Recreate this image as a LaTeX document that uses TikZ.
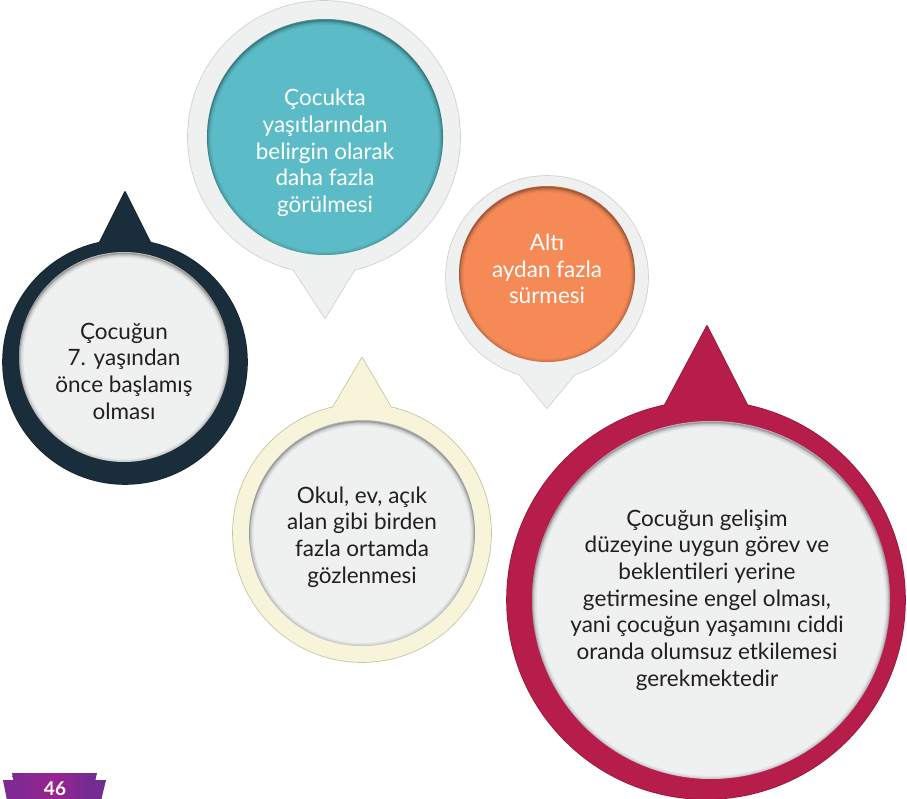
\documentclass[tikz,border=0pt]{standalone}
\usepackage{fontspec}
\setmainfont{Lato}
\usetikzlibrary{calc}
\definecolor{bubgray}{HTML}{EFF0F0}
\definecolor{bubedge}{HTML}{CFD0D0}
\definecolor{tealc}{HTML}{5BBCC7}
\definecolor{orangec}{HTML}{F58A56}
\definecolor{navyc}{HTML}{1A2D3B}
\definecolor{crimc}{HTML}{B71D4A}
\definecolor{palec}{HTML}{F8F4D9}
\definecolor{paleedge}{HTML}{C8C19C}
\definecolor{txtc}{HTML}{231F20}
\definecolor{purpA}{HTML}{7B2A92}
\definecolor{purpB}{HTML}{9A2390}
\definecolor{purpC}{HTML}{6A2E92}
\tikzset{
  lbl/.style={align=center, font=\fontsize{22.5}{26.7}\selectfont, inner sep=0pt},
  lbllight/.style={lbl, text=white},
  lbldark/.style={lbl, text=txtc},
}
% #1 center, #2 radius (pt)
\newcommand\myinshadow[2]{%
  \begin{scope}
    \clip #1 circle (#2);
    \foreach \w/\o in {9/0.05,6/0.07,3.5/0.10,1.5/0.16}
      \draw[line width=\w pt, black, opacity=\o] ($#1+(0,1.5)$) circle (#2);
  \end{scope}}
% bubble: #1 center, #2 radius, #3 apex, #4 ang1, #5 ang2, #6 fill, #7 edge
\newcommand\mybubble[7]{%
  \draw[#7, line width=1.6pt, line join=round] #1 circle (#2);
  \draw[#7, line width=1.6pt, line join=round] #3 -- ($#1+(#4:#2)$) -- ($#1+(#5:#2)$) -- cycle;
  \fill[#6] #1 circle (#2);
  \fill[#6, line join=round] #3 -- ($#1+(#4:#2)$) -- ($#1+(#5:#2)$) -- cycle;
}
\begin{document}
\begin{tikzpicture}[x=1pt,y=-1pt]
\useasboundingbox (0,0) rectangle (907,799);
\fill[white] (0,0) rectangle (907,799);

% --- Teal bubble (top) ---
\mybubble{(324,137)}{136pt}{(325,318)}{-77}{-103}{bubgray}{bubedge}
\fill[tealc] (325,137) circle (118pt);
\myinshadow{(325,137)}{118pt}
\node[lbllight] (teal) at (325,153) {Çocukta\\yaşıtlarından\\belirgin olarak\\daha fazla\\görülmesi};

% --- Navy bubble (left) ---
\mybubble{(125,362)}{122pt}{(125,192)}{78}{102}{navyc}{navyc!80!black}
\fill[bubgray] (124,357) circle (105pt);
\myinshadow{(124,357)}{105pt}
\node[lbldark] (navy) at (124,371) {Çocuğun\\7. yaşından\\önce başlamış\\olması};

% --- Orange bubble ---
\mybubble{(547,277)}{101pt}{(547,408)}{-74}{-106}{bubgray}{bubedge}
\fill[orangec] (547,274) circle (88pt);
\myinshadow{(547,274)}{88pt}
\node[lbllight] (orange) at (547,269) {Altı\\aydan fazla\\sürmesi};

% --- Pale yellow bubble ---
\mybubble{(362,533)}{129pt}{(362,358)}{77}{103}{palec}{paleedge}
\fill[bubgray] (362,533) circle (113pt);
\myinshadow{(362,533)}{113pt}
\node[lbldark] (pale) at (362,537) {Okul, ev, açık\\alan gibi birden\\fazla ortamda\\gözlenmesi};

% --- Crimson bubble ---
\mybubble{(706,600)}{199pt}{(707,326)}{78}{102}{crimc}{crimc!80!black}
\fill[bubgray] (711,600) circle (179pt);
\myinshadow{(711,600)}{179pt}
\node[lbldark] (crim) at (707,600) {Çocuğun gelişim\\düzeyine uygun görev ve\\beklentileri yerine\\getirmesine engel olması,\\yani çocuğun yaşamını ciddi\\oranda olumsuz etkilemesi\\gerekmektedir};

% --- page number badge ---
\shade[left color=purpA, right color=purpC, middle color=purpB] (3,780) -- (106,780) -- (100,805) -- (8,805) -- cycle;
\shade[left color=purpA, right color=purpC, middle color=purpB] (12,773) -- (97,773) -- (90,805) -- (18,805) -- cycle;
\node[text=white, font=\bfseries\fontsize{19}{19}\selectfont, anchor=north, inner sep=0pt] (page) at (55,782) {46};
\end{tikzpicture}
\end{document}
